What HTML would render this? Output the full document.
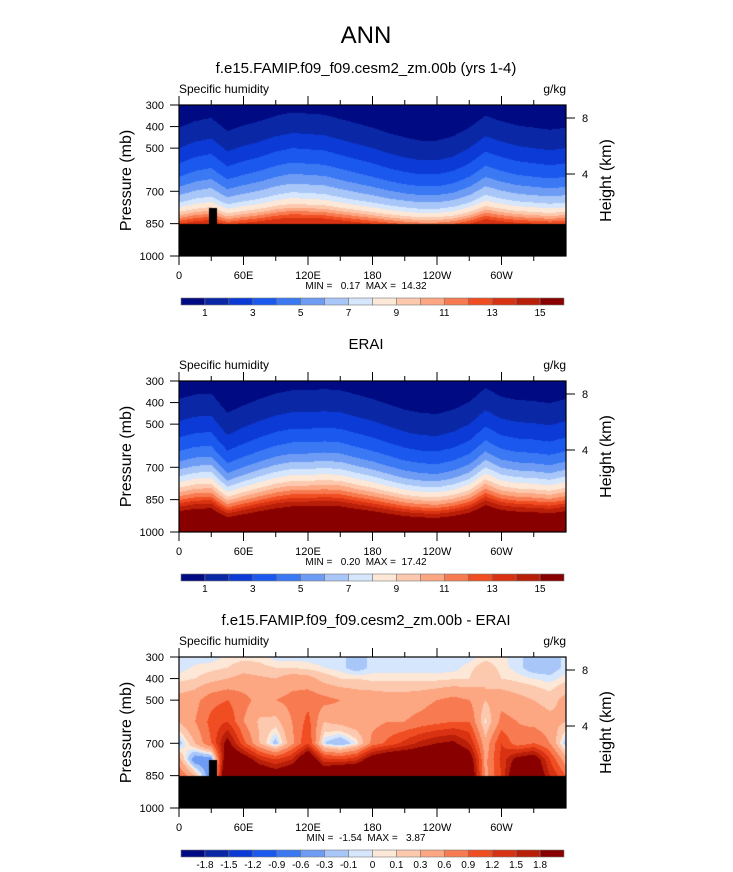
<!DOCTYPE html>
<html><head><meta charset="utf-8">
<style>
body{margin:0;background:#fff;}
#root{position:relative;width:733px;height:872px;overflow:hidden;font-family:"Liberation Sans",sans-serif;}
svg{position:absolute;left:0;top:0;}
canvas{position:absolute;}
</style></head>
<body>
<div id="root">
<canvas id="c0" width="387" height="151" style="left:179px;top:105px"></canvas>
<canvas id="c1" width="387" height="151" style="left:179px;top:381px"></canvas>
<canvas id="c2" width="387" height="151" style="left:179px;top:657px"></canvas>
<svg id="s" width="733" height="872"></svg>
</div>
<script>
// ---------- data ----------
const lons = [0,15,30,45,60,75,90,105,120,135,150,165,180,195,210,225,240,255,270,285,300,315,330,345,360];
const profLevels = [300,350,400,450,500,550,600,650,700,750,800,850,900,950,1000];
const modelProfile = [0.4,0.65,0.95,1.45,2.0,2.7,3.45,4.3,5.5,6.9,9.2,13,14.5,15.3,16];
const modelShift = [0,30,45,-15,10,30,55,70,65,60,40,20,0,-25,-45,-60,-60,-40,0,55,30,10,0,-10,0];
const modelShiftWeight = [1,1,1,1,1,0.95,0.9,0.8,0.7,0.55,0.45,0.35,0.3,0.3,0.3];
const eraiProfile = [0.4,0.7,1.05,1.5,2.05,2.7,3.4,4.3,5.4,7.0,8.9,11.5,14.8,16,17];
const eraiShift = [10,30,35,-55,-20,10,35,50,50,55,50,30,10,-15,-40,-55,-60,-40,-5,60,20,5,0,-10,10];
const eraiShiftWeight = [1,1,1,1,1,1,0.95,0.9,0.85,0.8,0.7,0.6,0.5,0.4,0.3];
const diffLevels = [300,350,400,500,600,700,775,850];
const diff300 = [-0.05,-0.05,-0.05,0.02,0.05,0.05,-0.05,-0.05,-0.05,-0.05,-0.05,-0.2,-0.05,-0.05,-0.05,-0.05,-0.05,-0.05,-0.05,0.05,0.02,-0.05,-0.2,-0.2,-0.05];
const diff350 = [-0.05,0.02,0.05,0.1,0.2,0.15,0.1,0.1,0.05,0.0,-0.05,-0.2,-0.05,-0.05,-0.05,-0.05,-0.05,-0.05,0.05,0.2,0.05,-0.05,-0.2,-0.2,-0.05];
const diff400 = [0.05,0.1,0.2,0.3,0.4,0.35,0.3,0.45,0.4,0.2,0.1,0.1,0.05,0.05,0.05,0.05,0.05,0.08,0.1,0.3,0.1,0.05,0.0,-0.05,0.05];
const diff500 = [0.4,0.5,0.8,0.9,0.7,0.5,0.6,0.7,0.8,0.7,0.6,0.5,0.5,0.45,0.45,0.5,0.6,0.7,0.6,0.3,0.5,0.4,0.3,0.2,0.4];
const diff600 = [0.3,0.6,1.0,1.2,0.6,0.25,0.2,0.6,1.0,0.3,0.4,0.5,0.5,0.6,0.6,0.7,0.8,0.9,0.9,0.05,0.7,0.6,0.5,0.4,0.3];
const diff700 = [-0.2,0.3,0.9,2.0,1.0,0.3,-0.2,0.5,1.2,-0.1,-0.3,0.0,0.7,1.0,1.3,1.6,1.8,1.9,1.5,0.4,1.2,0.7,0.9,0.6,-0.2];
const diff775 = [0.4,-0.5,-0.5,2.5,2.2,1.5,1.2,1.5,2.5,1.3,1.2,1.4,2.2,2.5,2.5,2.5,2.5,2.5,2.2,0.5,1.3,2.0,2.2,1.2,0.4];
const diff850 = [0.9,0.3,-0.6,3.0,3.0,2.5,2.2,2.5,2.5,2.5,3,3,3,3,3,3,3,3,2.5,0.5,1.2,2.5,2.5,1.5,0.9];
const qBounds = [1,2,3,4,5,6,7,8,9,10,11,12,13,14,15];
const qLabels = ["1","3","5","7","9","11","13","15"];
const dBounds = [-1.8,-1.5,-1.2,-0.9,-0.6,-0.3,-0.1,0,0.1,0.3,0.6,0.9,1.2,1.5,1.8];
const dLabels = ["-1.8","-1.5","-1.2","-0.9","-0.6","-0.3","-0.1","0","0.1","0.3","0.6","0.9","1.2","1.5","1.8"];
const pTicks = [300,400,500,700,850,1000];
const lonTicks = ["0","60E","120E","180","120W","60W"];
const hTicks = [8,4];
const palette = ["#000a82","#0a28a6","#0c3ad6","#1a58ee","#3a78f4","#6e9cf5","#a8c6f8","#d6e6fc","#fde8d8","#fcc8ae","#fca682","#f87a50","#f04e22","#d83212","#b81e08","#880000"];

// ---------- axes ----------
const X0=179,W=387,H=151;
const xOf = lon => X0 + lon/360*W;
const yOf = (p,top) => top + (p-300)/700*H;
const pOfPix = py => 300 + py/H*700;
function interp(xs, ys, x){
  if(x<=xs[0]) return ys[0];
  for(let i=1;i<xs.length;i++){ if(x<=xs[i]){const t=(x-xs[i-1])/(xs[i]-xs[i-1]);return ys[i-1]+t*(ys[i]-ys[i-1]);} }
  return ys[ys.length-1];
}
function colorIdx(v,b){let i=0;while(i<b.length&&v>=b[i])i++;return i;}
function hex(h){return [parseInt(h.slice(1,3),16),parseInt(h.slice(3,5),16),parseInt(h.slice(5,7),16)];}
const palRGB = palette.map(hex);

function drawField(id, fn, bounds, mask){
  const c=document.getElementById(id),ctx=c.getContext('2d');
  const img=ctx.createImageData(W,H);
  for(let py=0;py<H;py++){const p=pOfPix(py+0.5);
    for(let px=0;px<W;px++){const lon=(px+0.5)/W*360;
      let col;
      if(mask && mask(lon,p)) col=[0,0,0]; else col=palRGB[colorIdx(fn(lon,p),bounds)];
      const k=(py*W+px)*4;img.data[k]=col[0];img.data[k+1]=col[1];img.data[k+2]=col[2];img.data[k+3]=255;}}
  ctx.putImageData(img,0,0);
}
const topoMask=(lon,p)=> p>850 || (lon>=27.5 && lon<=35.5 && p>777);
drawField('c0',(lon,p)=>interp(profLevels,modelProfile,p+interp(lons,modelShift,lon)*interp(profLevels,modelShiftWeight,p)),qBounds,topoMask);
drawField('c1',(lon,p)=>interp(profLevels,eraiProfile,p+interp(lons,eraiShift,lon)*interp(profLevels,eraiShiftWeight,p)),qBounds,null);
const diffRows=[diff300,diff350,diff400,diff500,diff600,diff700,diff775,diff850];
drawField('c2',(lon,p)=>{const col=diffRows.map(r=>interp(lons,r,lon));return interp(diffLevels,col,p);},dBounds,topoMask);

// ---------- annotations ----------
const S=document.getElementById('s'),NS='http://www.w3.org/2000/svg';
function mk(tag,attrs,parent,name,txt){const e=document.createElementNS(NS,tag);for(const k in attrs)e.setAttribute(k,attrs[k]);
  
  
  if(txt!==undefined)e.textContent=txt;(parent||S).appendChild(e);return e;}
mk('text',{x:366,y:43,'font-size':24,'text-anchor':'middle'},S,'figure-title','ANN');
const titles=[["f.e15.FAMIP.f09_f09.cesm2_zm.00b (yrs 1-4)",73],["ERAI",349],["f.e15.FAMIP.f09_f09.cesm2_zm.00b - ERAI",625]];
const minmax=["MIN =   0.17  MAX =  14.32","MIN =   0.20  MAX =  17.42","MIN =  -1.54  MAX =   3.87"];
const tops=[105,381,657];
tops.forEach((top,i)=>{
  const g=mk('g',{},S,'panel-'+(i+1));
  mk('text',{x:366,y:titles[i][1],'font-size':15,'text-anchor':'middle'},g,'panel-title',titles[i][0]);
  mk('text',{x:179,y:top-12,'font-size':12},g,'variable-label','Specific humidity');
  mk('text',{x:566,y:top-12,'font-size':12,'text-anchor':'end'},g,'units-label','g/kg');
  mk('rect',{x:X0,y:top,width:W,height:H,fill:'none',stroke:'#000','stroke-width':1.2},g,'plot-frame');
  pTicks.forEach(p=>{const y=yOf(p,top);
    mk('line',{x1:X0-9,x2:X0,y1:y,y2:y,stroke:'#000'},g,'y-tick');
    mk('text',{x:X0-15,y:y+4,'font-size':11,'text-anchor':'end'},g,'y-tick-label',String(p));});
  for(let k=0;k<12;k++){const x=xOf(k*30),len=k%2?5:9;
    mk('line',{x1:x,x2:x,y1:top-len,y2:top,stroke:'#000'},g,'x-tick-top');
    mk('line',{x1:x,x2:x,y1:top+H,y2:top+H+len,stroke:'#000'},g,'x-tick');}
  lonTicks.forEach((t,k)=>mk('text',{x:xOf(k*60),y:top+H+23,'font-size':11,'text-anchor':'middle'},g,'x-tick-label',t));
  hTicks.forEach((h,k)=>{const y=top+13+k*56;
    mk('line',{x1:X0+W,x2:X0+W+9,y1:y,y2:y,stroke:'#000'},g,'height-tick');
    mk('text',{x:X0+W+16,y:y+4,'font-size':11},g,'height-tick-label',String(h));});
  mk('text',{x:0,y:0,'font-size':16,'text-anchor':'middle',transform:`translate(131,${top+H/2}) rotate(-90)`},g,'y-axis-title','Pressure (mb)');
  mk('text',{x:0,y:0,'font-size':16,'text-anchor':'middle',transform:`translate(611,${top+H/2}) rotate(-90)`},g,'right-axis-title','Height (km)');
  mk('text',{x:366,y:top+H+33,'font-size':10,'text-anchor':'middle',style:'white-space:pre'},g,'min-max-label',minmax[i]);
  // colorbar
  const cbY=top+193,cbX=181,cbW=383,bw=cbW/16;
  const cb=mk('g',{},g,'colorbar');
  palette.forEach((c,j)=>mk('rect',{x:cbX+j*bw,y:cbY,width:bw,height:7,fill:c,stroke:'#777','stroke-width':0.6},cb,'colorbar-box'));
  if(i<2){qLabels.forEach((t,j)=>mk('text',{x:cbX+(2*j+1)*bw,y:cbY+18,'font-size':10,'text-anchor':'middle'},cb,'colorbar-label',t));}
  else{dLabels.forEach((t,j)=>mk('text',{x:cbX+(j+1)*bw,y:cbY+18,'font-size':10,'text-anchor':'middle'},cb,'colorbar-label',t));}
});
</script>
</body></html>
